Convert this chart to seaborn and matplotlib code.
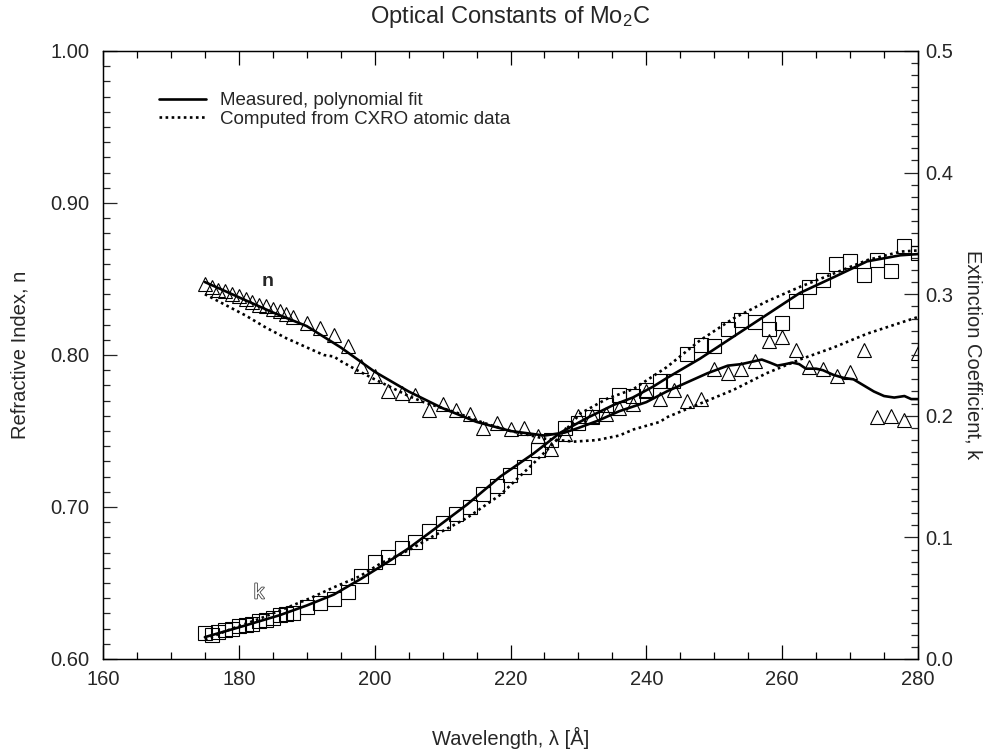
import numpy as np
import pandas as pd
import matplotlib
matplotlib.use("Agg")
import matplotlib.pyplot as plt
import matplotlib.patheffects as pe
from matplotlib.lines import Line2D
from matplotlib.ticker import MultipleLocator
import seaborn as sns

# ---------------- data ----------------
wl_meas = [175, 176, 177, 178, 179, 180, 181, 182, 183, 184, 185, 186, 187, 188,
           190, 192, 194, 196, 198, 200, 202, 204, 206, 208, 210, 212, 214, 216,
           218, 220, 222, 224, 226, 228, 230, 232, 234, 236, 238, 240, 242, 244,
           246, 248, 250, 252, 254, 256, 258, 260, 262, 264, 266, 268, 270, 272,
           274, 276, 278, 280]
n_meas = [0.847, 0.845, 0.843, 0.842, 0.840, 0.839, 0.837, 0.835, 0.833, 0.832,
          0.830, 0.829, 0.827, 0.825, 0.821, 0.818, 0.813, 0.806, 0.793, 0.786,
          0.776, 0.775, 0.774, 0.764, 0.768, 0.764, 0.761, 0.752, 0.755, 0.751,
          0.752, 0.747, 0.738, 0.748, 0.760, 0.760, 0.761, 0.765, 0.768, 0.776,
          0.771, 0.777, 0.770, 0.771, 0.791, 0.788, 0.791, 0.796, 0.809, 0.812,
          0.803, 0.792, 0.791, 0.786, 0.789, 0.803, 0.759, 0.760, 0.757, 0.801]
k_meas = [0.021, 0.020, 0.022, 0.024, 0.025, 0.027, 0.028, 0.029, 0.031, 0.032,
          0.034, 0.036, 0.037, 0.038, 0.043, 0.046, 0.049, 0.055, 0.068, 0.080,
          0.084, 0.091, 0.096, 0.105, 0.112, 0.119, 0.125, 0.136, 0.142, 0.151,
          0.158, 0.172, 0.180, 0.190, 0.194, 0.199, 0.209, 0.217, 0.216, 0.221,
          0.229, 0.229, 0.251, 0.258, 0.257, 0.271, 0.279, 0.277, 0.271, 0.276,
          0.294, 0.306, 0.312, 0.325, 0.327, 0.316, 0.328, 0.319, 0.340, 0.334]

wl_nfit = [175, 180, 185, 190, 195, 200, 205, 210, 215, 220, 225, 228, 230, 233,
           236, 240, 243, 246, 249, 252, 254, 256, 257, 258.2, 259.3, 260.5, 261.5,
           262.5, 263.5, 265, 266, 267.5, 269, 270.5, 272, 273.5, 275, 276.5, 278,
           279, 280]
n_fit = [0.848, 0.838, 0.828, 0.819, 0.805, 0.789, 0.776, 0.765, 0.756, 0.750,
         0.747, 0.749, 0.752, 0.757, 0.763, 0.769, 0.776, 0.782, 0.788, 0.793,
         0.794, 0.796, 0.797, 0.795, 0.793, 0.794, 0.795, 0.794, 0.791, 0.791,
         0.790, 0.787, 0.785, 0.784, 0.780, 0.776, 0.773, 0.772, 0.773, 0.771,
         0.771]

wl_kfit = [175, 180, 183, 186, 190, 194, 198, 202, 205, 208.6, 213.6, 218.5,
           223.4, 227.3, 231.2, 235.2, 238, 241, 243, 247.9, 252.8, 257.7, 262.6,
           267.6, 272.5, 277.4, 280]
k_fit = [0.018, 0.026, 0.031, 0.036, 0.044, 0.053, 0.066, 0.080, 0.091, 0.106,
         0.127, 0.150, 0.169, 0.186, 0.198, 0.209, 0.215, 0.224, 0.231, 0.247,
         0.265, 0.283, 0.301, 0.314, 0.327, 0.332, 0.333]

wl_ncxro = [175, 178, 181, 184, 187, 190, 191.5, 192.5, 194, 195, 197.4, 200,
            202.3, 205, 207.2, 210, 212.1, 215, 217, 220, 222, 225, 229.3, 232.7,
            236, 238.1, 242, 243, 247.9, 252.8, 257.7, 262.6, 267.6, 272.5, 280]
n_cxro = [0.840, 0.833, 0.826, 0.818, 0.811, 0.805, 0.802, 0.800, 0.799, 0.796,
          0.790, 0.784, 0.779, 0.773, 0.769, 0.765, 0.762, 0.757, 0.754, 0.750,
          0.748, 0.745, 0.743, 0.744, 0.747, 0.751, 0.756, 0.759, 0.768, 0.777,
          0.788, 0.797, 0.805, 0.814, 0.825]

wl_kcxro = [175, 179, 183, 187, 190.5, 194, 197.8, 201, 205.2, 208.6, 213.6,
            218.5, 223.4, 226.3, 230.3, 234.2, 238.1, 243, 247.9, 252.8, 257.7,
            262.6, 267.6, 272.5, 277.4, 280]
k_cxro = [0.016, 0.025, 0.033, 0.042, 0.050, 0.059, 0.068, 0.079, 0.090, 0.101,
          0.116, 0.135, 0.161, 0.177, 0.202, 0.214, 0.222, 0.240, 0.262, 0.280,
          0.294, 0.306, 0.317, 0.328, 0.335, 0.336]

x_ticks = [160, 180, 200, 220, 240, 260, 280]
n_ticks = [0.60, 0.70, 0.80, 0.90, 1.00]
k_ticks = [0.0, 0.1, 0.2, 0.3, 0.4, 0.5]

title_txt = "Optical Constants of Mo$_2$C"
legend_labels = ["Measured, polynomial fit", "Computed from CXRO atomic data"]

# ---------------- style ----------------
sns.set_style("white")
plt.rcParams["font.family"] = ["Liberation Sans", "DejaVu Sans"]
plt.rcParams["mathtext.fontset"] = "custom"
plt.rcParams["mathtext.rm"] = "Liberation Sans"
plt.rcParams["mathtext.it"] = "Liberation Sans"

W, H = 988, 753
fig = plt.figure(figsize=(W / 100, H / 100), dpi=100)
L, R, T, B = 103, 918, 51, 659
ax = fig.add_axes([L / W, 1 - B / H, (R - L) / W, (B - T) / H])
ax2 = ax.twinx()

lw_line = 1.9
dot_style = (0, (1.0, 1.3))
mk = dict(markerfacecolor="none", markeredgecolor="black", markeredgewidth=0.8,
          markersize=9.5, linestyle="", color="black")

df_meas = pd.DataFrame({"wl": wl_meas, "n": n_meas, "k": k_meas})

# measured points
sns.lineplot(data=df_meas, x="wl", y="n", ax=ax, marker="^", sort=False,
             errorbar=None, zorder=2, **mk)
sns.lineplot(data=df_meas, x="wl", y="k", ax=ax2, marker="s", sort=False,
             errorbar=None, zorder=2, **mk)

# fits
sns.lineplot(x=wl_nfit, y=n_fit, ax=ax, color="black", lw=lw_line, sort=False,
             errorbar=None, zorder=3)
sns.lineplot(x=wl_kfit, y=k_fit, ax=ax2, color="black", lw=lw_line, sort=False,
             errorbar=None, zorder=3)
# CXRO
sns.lineplot(x=wl_ncxro, y=n_cxro, ax=ax, color="black", lw=lw_line,
             linestyle=dot_style, sort=False, errorbar=None, zorder=3)
sns.lineplot(x=wl_kcxro, y=k_cxro, ax=ax2, color="black", lw=lw_line,
             linestyle=dot_style, sort=False, errorbar=None, zorder=3)

ax.set_xlim(160, 280)
ax.set_ylim(0.60, 1.00)
ax2.set_ylim(0.0, 0.5)

ax.set_xticks(x_ticks)
ax.set_xticklabels([str(v) for v in x_ticks])
ax.set_yticks(n_ticks)
ax.set_yticklabels([f"{v:.2f}" for v in n_ticks])
ax2.set_yticks(k_ticks)
ax2.set_yticklabels([f"{v:.1f}" for v in k_ticks])
ax.xaxis.set_minor_locator(MultipleLocator(5))
ax.yaxis.set_minor_locator(MultipleLocator(0.01))
ax2.yaxis.set_minor_locator(MultipleLocator(0.01))

fs_tick = 14.5
ax.tick_params(axis="x", which="both", direction="in", top=True, bottom=True,
               labelsize=fs_tick, pad=8, width=0.9, color="black")
ax.tick_params(axis="x", which="major", length=10)
ax.tick_params(axis="x", which="minor", length=5)
ax.tick_params(axis="y", which="both", direction="in", left=True, right=False,
               labelsize=fs_tick, pad=10, width=0.9)
ax.tick_params(axis="y", which="major", length=10)
ax.tick_params(axis="y", which="minor", length=5)
ax2.tick_params(axis="y", which="both", direction="in", right=True, left=False,
                labelsize=fs_tick, pad=5, width=0.9)
ax2.tick_params(axis="y", which="major", length=10)
ax2.tick_params(axis="y", which="minor", length=5)
ax.set_xlabel("")
ax.set_ylabel("")
ax2.set_ylabel("")
for a in (ax, ax2):
    for s in a.spines.values():
        s.set_visible(True)
        s.set_linewidth(0.9)
        s.set_color("black")

# labels
fig.text((L + R) / 2 / W, 1 - 17 / H, title_txt, ha="center", va="center",
         fontsize=17)
fig.text((L + R) / 2 / W, 1 - 738 / H, "Wavelength, \u03bb [\u00c5]",
         ha="center", va="center", fontsize=14.5)
fig.text(20 / W, 1 - 355 / H, "Refractive Index, n", rotation=90,
         ha="center", va="center", fontsize=14.5)
fig.text(973 / W, 1 - 355 / H, "Extinction Coefficient, k", rotation=270,
         ha="center", va="center", fontsize=14.5)

# curve labels (positions in figure pixels)
fig.text(268 / W, 1 - 281 / H, "n", fontsize=14, fontweight="bold",
         ha="center", va="center")
fig.text(259 / W, 1 - 593 / H, "k", fontsize=15, color="white",
         ha="center", va="center",
         path_effects=[pe.withStroke(linewidth=1.2, foreground="#444444")])

# legend
handles = [Line2D([], [], color="black", lw=lw_line),
           Line2D([], [], color="black", lw=lw_line, linestyle=dot_style)]
leg = ax.legend(handles, legend_labels, loc="upper left",
                bbox_to_anchor=((159 - L) / (R - L), 1 - (92 - T) / (B - T)),
                frameon=False, fontsize=13.5, handlelength=2.5,
                handletextpad=0.75, labelspacing=0.08, borderaxespad=0,
                borderpad=0)

fig.savefig("out.png", dpi=100, facecolor="white")
